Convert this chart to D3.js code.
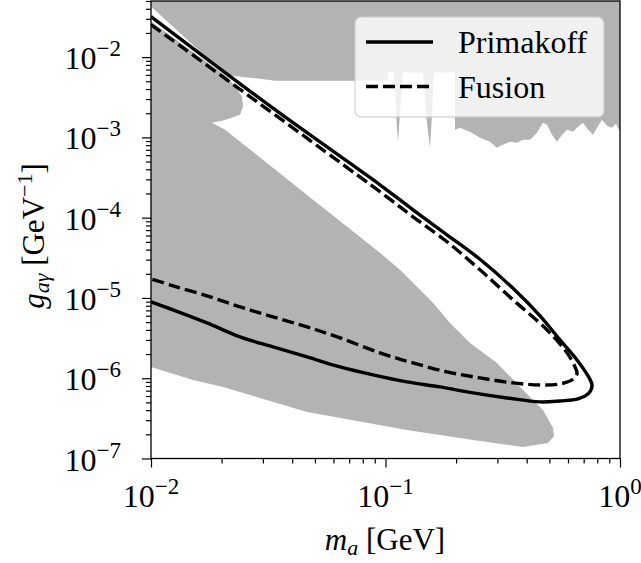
<!DOCTYPE html>
<html>
<head>
<meta charset="utf-8">
<script src="https://cdnjs.cloudflare.com/ajax/libs/d3/7.8.5/d3.min.js"></script>
<style>
  body { margin: 0; background: #fff; }
  text { font-family: "Liberation Serif", "Times New Roman", serif; fill: #000; }
</style>
</head>
<body>
<div id="chart"></div>
<script>
// Primakoff contour, [m_a (GeV), g (1/GeV)]: upper branch to the tip, then back along the lower branch
const primakoff = [
  [0.01, 0.0320], [0.0338, 2.21e-3], [0.0947, 2.57e-4], [0.131, 1.254e-4],
  [0.1829, 6.12e-5], [0.2529, 3.03e-5], [0.3498, 1.317e-5], [0.456, 5.98e-6],
  [0.5547, 3.00e-6], [0.6555, 1.69e-6], [0.7305, 1.068e-6], [0.7598, 8.25e-7],
  [0.7378, 6.56e-7], [0.662, 5.52e-7], [0.5547, 5.21e-7], [0.456, 5.07e-7],
  [0.3297, 5.68e-7], [0.2361, 6.56e-7], [0.1708, 7.79e-7], [0.1235, 8.99e-7],
  [0.0885, 1.100e-6], [0.0640, 1.383e-6], [0.0463, 1.843e-6], [0.0331, 2.457e-6],
  [0.02396, 3.27e-6], [0.01733, 4.89e-6], [0.01241, 7.11e-6], [0.01, 8.94e-6]
];

// Fusion contour
const fusion = [
  [0.01, 0.02542], [0.0947, 2.104e-4], [0.131, 1.026e-4], [0.1829, 5.01e-5],
  [0.2529, 2.24e-5], [0.3498, 9.47e-6], [0.4884, 4.00e-6], [0.5943, 2.068e-6],
  [0.6428, 1.383e-6], [0.6555, 1.131e-6], [0.6241, 9.52e-7], [0.5547, 8.49e-7],
  [0.456, 8.25e-7], [0.3498, 8.74e-7], [0.2529, 1.009e-6], [0.1829, 1.199e-6],
  [0.131, 1.552e-6], [0.0947, 2.068e-6], [0.064, 3.18e-6], [0.0463, 4.36e-6],
  [0.0331, 5.81e-6], [0.02396, 7.74e-6], [0.01733, 1.062e-5], [0.01241, 1.416e-5],
  [0.01, 1.730e-5]
];

// excluded region at the top (with the jagged lower edge)
const excludedUpper = [
  [0.01, 0.05], [0.01, 0.0426], [0.02028, 6.41e-3], [0.02215, 5.88e-3],
  [0.02517, 5.63e-3], [0.02916, 5.39e-3], [0.0338, 5.09e-3], [0.1025, 5.09e-3],
  [0.1025, 6.41e-3], [0.1087, 6.41e-3], [0.1109, 1.919e-3], [0.1130, 8.84e-4],
  [0.1153, 1.919e-3], [0.1188, 6.41e-3], [0.1445, 6.41e-3], [0.1489, 1.919e-3],
  [0.1548, 7.44e-4], [0.1579, 1.919e-3], [0.1610, 6.41e-3], [0.1979, 6.41e-3],
  [0.1979, 1.247e-3], [0.2079, 1.321e-3], [0.2293, 1.178e-3], [0.2529, 9.92e-4],
  [0.2790, 8.84e-4], [0.2989, 7.44e-4], [0.3170, 8.11e-4], [0.3396, 8.84e-4],
  [0.3638, 8.59e-4], [0.3859, 9.36e-4], [0.4133, 9.36e-4], [0.4428, 1.145e-3],
  [0.4694, 1.526e-3], [0.4884, 1.440e-3], [0.5129, 1.081e-3], [0.5387, 8.84e-4],
  [0.5660, 1.081e-3], [0.5943, 1.247e-3], [0.6303, 1.178e-3], [0.662, 1.360e-3],
  [0.6955, 1.526e-3], [0.7305, 1.247e-3], [0.7673, 1.081e-3], [0.7979, 1.321e-3],
  [0.8379, 1.662e-3], [0.8804, 1.399e-3], [0.9245, 1.321e-3], [0.9614, 1.482e-3],
  [1.0, 1.178e-3], [1.0, 0.05]
];

// excluded region on the left (beam dump band)
const excludedLeft = [
  [0.01, 0.0277], [0.02109, 5.71e-3], [0.02281, 4.29e-3], [0.02444, 3.22e-3],
  [0.02468, 2.414e-3], [0.02396, 1.919e-3], [0.02215, 1.760e-3], [0.02009, 1.615e-3],
  [0.01820, 1.526e-3], [0.02069, 1.247e-3], [0.03839, 2.97e-4], [0.04908, 1.672e-4],
  [0.0947, 3.65e-5], [0.1153, 2.24e-5], [0.1594, 8.69e-6], [0.1884, 4.89e-6],
  [0.2293, 2.754e-6], [0.2989, 1.552e-6], [0.3859, 7.14e-7], [0.4694, 4.02e-7],
  [0.5180, 2.40e-7], [0.5231, 1.907e-7], [0.4932, 1.561e-7], [0.3859, 1.391e-7],
  [0.2361, 1.700e-7], [0.1235, 2.266e-7], [0.0463, 3.80e-7], [0.02028, 7.79e-7],
  [0.01510, 9.52e-7], [0.01, 1.383e-6]
];

const massTicks = [0.01, 0.1, 1];
const massTickExp = ["−2", "−1", "0"];
const couplingTicks = [1e-7, 1e-6, 1e-5, 1e-4, 1e-3, 1e-2];
const couplingTickExp = ["−7", "−6", "−5", "−4", "−3", "−2"];
const legendNames = ["Primakoff", "Fusion"];

const width = 641, height = 563;
const plot = { left: 151, right: 620, top: 1, bottom: 458.5 };

const svg = d3.select("#chart").append("svg")
  .attr("width", width).attr("height", height);

const x = d3.scaleLog().domain([0.01, 1]).range([plot.left, plot.right]);
const y = d3.scaleLog().domain([1e-7, 0.05]).range([plot.bottom, plot.top]);

svg.append("clipPath").attr("id", "clip")
  .append("rect")
  .attr("x", plot.left).attr("y", plot.top)
  .attr("width", plot.right - plot.left).attr("height", plot.bottom - plot.top);

const area = d3.line().x((d) => x(d[0])).y((d) => y(d[1]));
const g = svg.append("g").attr("clip-path", "url(#clip)");

// grey exclusion regions
[excludedUpper, excludedLeft].forEach((pts) => {
  g.append("path").attr("d", area(pts) + "Z").attr("fill", "#b3b3b3");
});

// sensitivity contours
const contour = d3.line().curve(d3.curveCatmullRom.alpha(0.5))
  .x((d) => x(d[0])).y((d) => y(d[1]));

g.append("path").datum(primakoff)
  .attr("d", contour).attr("fill", "none")
  .attr("stroke", "#000").attr("stroke-width", 3.4);

g.append("path").datum(fusion)
  .attr("d", contour).attr("fill", "none")
  .attr("stroke", "#000").attr("stroke-width", 3.4)
  .attr("stroke-dasharray", "12,5");

// minor tick values between decades
const minorX = [], minorY = [];
for (let e = -2; e < 0; e++) for (let k = 2; k < 10; k++) minorX.push(k * Math.pow(10, e));
for (let e = -7; e < -1; e++) for (let k = 2; k < 10; k++) {
  const v = k * Math.pow(10, e);
  if (v <= 0.05) minorY.push(v);
}

const axisStyle = (sel) => {
  sel.select(".domain").remove();
  sel.selectAll("line").attr("stroke", "#000").attr("stroke-width", 1.2);
};

svg.append("g").attr("transform", `translate(0,${plot.bottom})`)
  .call(d3.axisBottom(x).tickValues(massTicks).tickSize(9).tickFormat(""))
  .call(axisStyle);
svg.append("g").attr("transform", `translate(0,${plot.bottom})`)
  .call(d3.axisBottom(x).tickValues(minorX).tickSize(5).tickFormat(""))
  .call(axisStyle);
svg.append("g").attr("transform", `translate(${plot.left},0)`)
  .call(d3.axisLeft(y).tickValues(couplingTicks).tickSize(9).tickFormat(""))
  .call(axisStyle);
svg.append("g").attr("transform", `translate(${plot.left},0)`)
  .call(d3.axisLeft(y).tickValues(minorY).tickSize(5).tickFormat(""))
  .call(axisStyle);

// frame
svg.append("rect")
  .attr("x", plot.left).attr("y", plot.top)
  .attr("width", plot.right - plot.left).attr("height", plot.bottom - plot.top)
  .attr("fill", "none").attr("stroke", "#000").attr("stroke-width", 1.3);

// tick labels, 10^n
massTicks.forEach((v, i) => {
  const t = svg.append("text")
    .attr("x", x(v)).attr("y", 507)
    .attr("text-anchor", "middle")
    .style("font-size", "32px");
  t.append("tspan").text("10");
  t.append("tspan").attr("dy", -13).style("font-size", "23px").text(massTickExp[i]);
});

couplingTicks.forEach((v, i) => {
  const t = svg.append("text")
    .attr("x", 121).attr("y", y(v) + 12)
    .attr("text-anchor", "end")
    .style("font-size", "32px");
  t.append("tspan").text("10");
  t.append("tspan").attr("dy", -13).style("font-size", "23px").text(couplingTickExp[i]);
});

// axis titles
const xt = svg.append("text")
  .attr("x", 385).attr("y", 550)
  .attr("text-anchor", "middle")
  .style("font-size", "31px");
xt.append("tspan").style("font-style", "italic").text("m");
xt.append("tspan").attr("dy", 5).style("font-size", "22px").style("font-style", "italic").text("a");
xt.append("tspan").attr("dy", -5).text(" [GeV]");

const yt = svg.append("text")
  .attr("transform", "translate(44,236) rotate(-90)")
  .attr("text-anchor", "middle")
  .style("font-size", "31px");
yt.append("tspan").style("font-style", "italic").text("g");
yt.append("tspan").attr("dy", 5).style("font-size", "22px").style("font-style", "italic").text("aγ");
yt.append("tspan").attr("dy", -5).text(" [GeV");
yt.append("tspan").attr("dy", -12).style("font-size", "22px").text("−1");
yt.append("tspan").attr("dy", 12).text("]");

// legend
const legend = svg.append("g");
legend.append("rect")
  .attr("x", 355).attr("y", 17).attr("width", 249).attr("height", 100)
  .attr("rx", 6)
  .attr("fill", "#fff").attr("fill-opacity", 0.8)
  .attr("stroke", "#ccc").attr("stroke-opacity", 0.8).attr("stroke-width", 1.3);

legendNames.forEach((name, i) => {
  const ly = 42 + i * 44.5;
  legend.append("line")
    .attr("x1", 366).attr("x2", 433).attr("y1", ly).attr("y2", ly)
    .attr("stroke", "#000").attr("stroke-width", 3.4)
    .attr("stroke-dasharray", i === 1 ? "12,5" : null);
  legend.append("text")
    .attr("x", 458).attr("y", ly + 11)
    .style("font-size", "32px")
    .text(name);
});
</script>
</body>
</html>
